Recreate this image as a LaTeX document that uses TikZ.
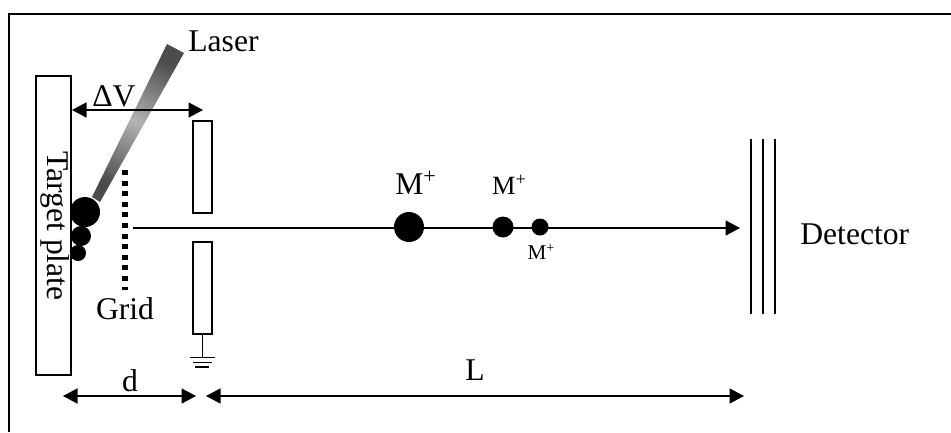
\documentclass[tikz,border=0pt]{standalone}
\usepackage{fontspec}
\setmainfont{Liberation Serif}
\usetikzlibrary{arrows.meta}
\tikzset{
    plate/.style={draw, line width=0.4mm, fill=white, inner sep=0pt},
    label/.style={inner sep=0pt, font=\fontsize{18}{21}\selectfont},
    dot/.style={circle, fill=black, inner sep=0pt},
    dimline/.style={{Triangle[length=2.9mm,width=3mm]}-{Triangle[length=2.9mm,width=3mm]}, line width=0.3mm},
    beam/.style={-{Triangle[length=2.9mm,width=3mm]}, line width=0.3mm},
    wire/.style={line width=0.3mm}
}
\begin{document}
\begin{tikzpicture}[x=0.2mm, y=-0.2mm]

\useasboundingbox (0,0) rectangle (951,432);

% Frame
\draw[line width=0.4mm] (9,432) -- (9,14) -- (951,14);

% Target plate
\node[plate, minimum width=7mm, minimum height=59.8mm] (target) at (53.5,225.5) {};
\node[label, rotate=-90] (targetlabel) at (55.5,226) {Target plate};

% Laser
\shade[top color=black!70, bottom color=black!70, middle color=black!30, shading angle=-28]
    (167,44) -- (184,53) -- (100,202) -- (92,197) -- cycle;
\node[label, anchor=west] (laser) at (188,41) {Laser};

% Extraction plates
\node[plate, minimum width=3.8mm, minimum height=18.4mm] (upper) at (202.5,167) {};
\node[plate, minimum width=3.8mm, minimum height=18.4mm] (lower) at (202.5,288) {};

% Ground
\coordinate (ground) at (202.5,357.5);
\draw[wire] (lower.south) -- (ground);
\draw[wire] (190,357.5) -- (215,357.5);
\draw[wire] (193,362.5) -- (212,362.5);
\draw[wire] (195,367) -- (209,367);

% Grid
\coordinate (gridtop) at (125,170);
\coordinate (gridend) at (125,290);
\draw[line width=1.1mm, dash pattern=on 1mm off 1.12mm] (gridtop) -- (gridend);
\node[label] (grid) at (125,309) {Grid};

% Ions at the plate
\node[dot, minimum size=6mm] (ionA) at (85,212) {};
\node[dot, minimum size=4mm] (ionB) at (81,236) {};
\node[dot, minimum size=3.2mm] (ionC) at (78,253) {};

% Flight path
\coordinate (start) at (133,228);
\coordinate (stop) at (740,228);
\draw[beam] (start) -- (stop);
\node[dot, minimum size=6mm] (bigion) at (409,227) {};
\node[dot, minimum size=4.2mm] (midion) at (503,227) {};
\node[dot, minimum size=3.4mm] (smallion) at (540,227) {};
\node[label] (biglabel) at (416,183) {M\textsuperscript{+}};
\node[label, font=\fontsize{15}{17}\selectfont] (midlabel) at (509.5,185) {M\textsuperscript{+}};
\node[label, font=\fontsize{12}{14}\selectfont] (smalllabel) at (541.5,252) {M\textsuperscript{+}};

% Detector
\foreach \x in {751,763,775}
    \draw[wire] (\x,139) -- (\x,314);
\node[label, anchor=west] (detector) at (800,234) {Detector};

% Dimensions
\coordinate (dvleft) at (72,110);
\coordinate (dvright) at (203,110);
\draw[dimline] (dvleft) -- (dvright);
\node[label] (dv) at (114,96) {ΔV};
\coordinate (dleft) at (63,396);
\coordinate (dright) at (196,396);
\draw[dimline] (dleft) -- (dright);
\node[label] (d) at (130,381) {d};
\coordinate (lleft) at (206,396);
\coordinate (lright) at (744,396);
\draw[dimline] (lleft) -- (lright);
\node[label] (l) at (475,370) {L};

\end{tikzpicture}
\end{document}
